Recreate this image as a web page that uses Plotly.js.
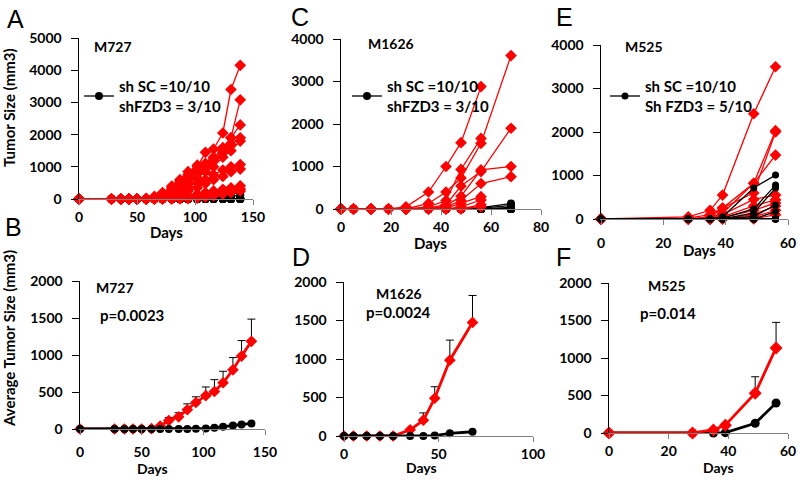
<!DOCTYPE html>
<html>
<head>
<meta charset="utf-8">
<script src="https://cdn.plot.ly/plotly-3.0.1.min.js"></script>
<style>
  body { margin: 0; background: #fff; }
  #tumorPlot { width: 800px; height: 482px; }
</style>
</head>
<body>
<div id="tumorPlot"></div>
<script>
// ---- data ----
// M727 (panels A and B)
var daysM727 = [0, 28, 36, 43, 50, 58, 65, 72, 80, 87, 94, 102, 109, 116, 124, 131, 139];
var redM727 = [
    [0, 0, 0, 0, 0, 0, 50, 150, 300, 500, 750, 1000, 1450, 1550, 2050, 3400, 4150],
    [0, 0, 0, 0, 0, 20, 80, 200, 350, 550, 700, 900, 1100, 1300, 1500, 1900, 3080],
    [0, 0, 0, 0, 0, 0, 60, 180, 400, 600, 850, 1050, 1100, 1250, 1600, 1900, 2300],
    [0, 0, 0, 0, 0, 0, 40, 120, 250, 420, 600, 800, 1000, 1200, 1450, 1700, 1900],
    [0, 0, 0, 0, 0, 0, 30, 100, 200, 330, 480, 650, 850, 1000, 1300, 1500, 1800],
    [0, 0, 0, 0, 0, 0, 0, 60, 150, 250, 380, 500, 600, 750, 900, 1000, 1070],
    [0, 0, 0, 0, 0, 0, 0, 30, 80, 160, 250, 350, 480, 600, 700, 850, 930],
    [0, 0, 0, 0, 0, 0, 0, 0, 30, 60, 100, 150, 200, 250, 300, 350, 410],
    [0, 0, 0, 0, 0, 0, 0, 0, 0, 20, 50, 80, 120, 170, 220, 260, 310],
    [0, 0, 0, 0, 0, 0, 0, 0, 0, 0, 10, 30, 60, 100, 150, 200, 250]
];
var blackM727 = [
    [0, 0, 0, 0, 0, 0, 0, 0, 0, 0, 0, 10, 40, 100, 180, 250, 300],
    [0, 0, 0, 0, 0, 0, 0, 0, 0, 0, 0, 0, 20, 60, 120, 180, 220],
    [0, 0, 0, 0, 0, 0, 0, 0, 0, 0, 0, 0, 0, 20, 50, 80, 120],
    [0, 0, 0, 0, 0, 0, 0, 0, 0, 0, 0, 0, 0, 0, 0, 0, 0],
    [0, 0, 0, 0, 0, 0, 0, 0, 0, 0, 0, 0, 0, 0, 0, 0, 0],
    [0, 0, 0, 0, 0, 0, 0, 0, 0, 0, 0, 0, 0, 0, 0, 0, 0],
    [0, 0, 0, 0, 0, 0, 0, 0, 0, 0, 0, 0, 0, 0, 0, 0, 0],
    [0, 0, 0, 0, 0, 0, 0, 0, 0, 0, 0, 0, 0, 0, 0, 0, 0],
    [0, 0, 0, 0, 0, 0, 0, 0, 0, 0, 0, 0, 0, 0, 0, 0, 0],
    [0, 0, 0, 0, 0, 0, 0, 0, 0, 0, 0, 0, 0, 0, 0, 0, 0]
];
var meanRedM727 = [0, 0, 0, 0, 0, 5, 40, 115, 165, 260, 358, 450, 507, 625, 800, 985, 1185];
var errRedM727 = [0, 0, 0, 0, 0, 3, 12, 40, 55, 80, 77, 118, 160, 155, 165, 210, 300];
var meanBlackM727 = [0, 0, 0, 0, 0, 0, 0, 0, 0, 0, 3, 8, 18, 30, 48, 62, 75];

// M1626 (panels C and D)
var daysM1626 = [0, 5, 12, 19, 26, 35, 42, 48, 56, 68];
var redM1626 = [
    [0, 0, 0, 0, 50, 400, 1000, 1560, 2880, null],
    [0, 0, 0, 0, 0, 130, 400, 730, 1545, 3610],
    [0, 0, 0, 0, 0, 50, 200, 930, 1660, null],
    [0, 0, 0, 0, 0, 20, 100, 540, 880, 1900],
    [0, 0, 0, 0, 0, 0, 80, 300, 920, 1000],
    [0, 0, 0, 0, 0, 0, 50, 200, 600, 760],
    [0, 0, 0, 0, 0, 0, 20, 130, 290, null],
    [0, 0, 0, 0, 0, 0, 0, 50, 212, null],
    [0, 0, 0, 0, 0, 0, 0, 0, 100, null],
    [0, 0, 0, 0, 0, 0, 0, 0, 50, null]
];
var blackM1626 = [
    [0, 0, 0, 0, 0, 0, 0, 10, 30, 130],
    [0, 0, 0, 0, 0, 0, 0, 0, 20, 80],
    [0, 0, 0, 0, 0, 0, 0, 0, 0, 40],
    [0, 0, 0, 0, 0, 0, 0, 0, 0, 0],
    [0, 0, 0, 0, 0, 0, 0, 0, 0, 0],
    [0, 0, 0, 0, 0, 0, 0, 0, 0, 0],
    [0, 0, 0, 0, 0, 0, 0, 0, 0, 0],
    [0, 0, 0, 0, 0, 0, 0, 0, 0, 0],
    [0, 0, 0, 0, 0, 0, 0, 0, 0, 0],
    [0, 0, 0, 0, 0, 0, 0, 0, 0, 0]
];
var meanRedM1626 = [0, 0, 0, 0, 0, 80, 205, 490, 985, 1475];
var errRedM1626 = [0, 0, 0, 0, 0, 15, 95, 150, 260, 350];
var meanBlackM1626 = [0, 0, 0, 0, 0, 0, 0, 5, 35, 55];

// M525 (panels E and F)
var daysM525 = [0, 28, 35, 39, 49, 56];
var redM525 = [
    [0, 50, 200, 550, 2420, 3500],
    [0, 20, 100, 250, 820, 2030],
    [0, 0, 50, 250, 600, 2000],
    [0, 0, 30, 130, 820, 1470],
    [0, 0, 0, 100, 450, 550],
    [0, 0, 0, 50, 300, 440],
    [0, 0, 0, 30, 200, 370],
    [0, 0, 0, 0, 100, 300],
    [0, 0, 0, 0, 50, 200],
    [0, 0, 0, 0, 0, 100]
];
var blackM525 = [
    [0, 0, 0, 50, 715, 1010],
    [0, 0, 0, 20, 230, 780],
    [0, 0, 0, 0, 140, 710],
    [0, 0, 0, 0, 60, 320],
    [0, 0, 0, 0, 0, 170],
    [0, 0, 0, 0, 0, 0],
    [0, 0, 0, 0, 0, 0],
    [0, 0, 0, 0, 0, 0],
    [0, 0, 0, 0, 0, 0],
    [0, 0, 0, 0, 0, 0]
];
var meanRedM525 = [0, 0, 40, 105, 530, 1135];
var errRedM525 = [0, 0, 15, 25, 220, 340];
var meanBlackM525 = [0, 0, 0, 5, 130, 400];

var legendTexts = ["sh SC =10/10<br>shFZD3 = 3/10", "sh SC =10/10<br>shFZD3 = 3/10", "sh SC =10/10<br>Sh FZD3 = 5/10"];

// ---- styling ----
var RED = "#ff0000";
var FONT = "Lato, 'Open Sans', sans-serif";
var W = 800, H = 482;
function px(x) { return x / W; }
function py(y) { return 1 - y / H; }

var traces = [];

// one line per mouse
function addMice(days, groups, color, symbol, size, xa, ya, legendName, legendId) {
    groups.forEach(function(vals, i) {
        var t = {
            x: days, y: vals, type: "scatter", mode: "lines+markers",
            xaxis: xa, yaxis: ya, cliponaxis: false,
            line: {color: color, width: 1.3},
            marker: {color: color, symbol: symbol, size: size},
            showlegend: false, hoverinfo: "skip"
        };
        if (legendName && i === 0) {
            t.showlegend = true;
            t.name = legendName;
            t.legend = legendId;
        }
        traces.push(t);
    });
}

function addMean(days, vals, errs, color, symbol, size, xa, ya) {
    var t = {
        x: days, y: vals, type: "scatter", mode: "lines+markers",
        xaxis: xa, yaxis: ya, cliponaxis: false,
        line: {color: color, width: 2.8},
        marker: {color: color, symbol: symbol, size: size},
        showlegend: false, hoverinfo: "skip"
    };
    if (errs) {
        t.error_y = {type: "data", symmetric: false, array: errs,
            arrayminus: errs.map(function() { return 0; }),
            color: "#000", thickness: 1, width: 4};
    }
    traces.push(t);
}

// A and C: red drawn over black; E: black over red
addMice(daysM727, blackM727, "#000", "circle", 8, "x", "y", legendTexts[0], "legend");
addMice(daysM727, redM727, RED, "diamond", 9, "x", "y");
addMice(daysM1626, blackM1626, "#000", "circle", 8, "x2", "y2", legendTexts[1], "legend2");
addMice(daysM1626, redM1626, RED, "diamond", 9, "x2", "y2");
addMice(daysM525, redM525, RED, "diamond", 9, "x3", "y3");
addMice(daysM525, blackM525, "#000", "circle", 7, "x3", "y3", legendTexts[2], "legend3");

addMean(daysM727, meanRedM727, errRedM727, RED, "diamond", 9, "x4", "y4");
addMean(daysM727, meanBlackM727, null, "#000", "circle", 8, "x4", "y4");
addMean(daysM1626, meanRedM1626, errRedM1626, RED, "diamond", 9, "x5", "y5");
addMean(daysM1626, meanBlackM1626, null, "#000", "circle", 8, "x5", "y5");
addMean(daysM525, meanBlackM525, null, "#000", "circle", 9, "x6", "y6");
addMean(daysM525, meanRedM525, errRedM525, RED, "diamond", 10, "x6", "y6");

var tickFont = {family: FONT, size: 14, color: "#000", weight: "bold"};

function xAxis(x0, x1, range, dtick, anchor, standoff) {
    return {domain: [px(x0), px(x1)], range: range, dtick: dtick, anchor: anchor,
        showgrid: false, zeroline: false, showline: true, linecolor: "#7f7f7f", linewidth: 1,
        ticks: "outside", ticklen: 5, tickcolor: "#7f7f7f", tickfont: tickFont,
        ticklabelstandoff: standoff, fixedrange: true};
}
function yAxis(y0, y1, range, dtick, anchor) {
    return {domain: [py(y1), py(y0)], range: range, dtick: dtick, anchor: anchor,
        showgrid: false, zeroline: false, showline: true, linecolor: "#000", linewidth: 1.5,
        ticks: "outside", ticklen: 7, tickcolor: "#000", tickfont: tickFont,
        ticklabelstandoff: 6, fixedrange: true};
}

function note(text, x, y, size, extra) {
    var a = {text: text, x: px(x), y: py(y), xref: "paper", yref: "paper",
        xanchor: "center", yanchor: "middle", showarrow: false,
        font: {family: FONT, size: size, color: "#000", weight: "bold"}};
    for (var k in extra) { a[k] = extra[k]; }
    return a;
}
function letter(text, x, y) {
    return {text: text, x: px(x), y: py(y), xref: "paper", yref: "paper",
        xanchor: "center", yanchor: "middle", showarrow: false,
        font: {family: "'Liberation Sans', Arial, sans-serif", size: 25, color: "#000"}};
}
function legendBox(x, y) {
    return {x: px(x), y: py(y), xanchor: "left", yanchor: "top", bgcolor: "rgba(0,0,0,0)",
        borderwidth: 0, font: {family: FONT, size: 15, color: "#000", weight: "bold"},
        itemwidth: 30, valign: "middle"};
}

var layout = {
    width: W, height: H,
    margin: {l: 0, r: 0, t: 0, b: 0},
    paper_bgcolor: "#fff", plot_bgcolor: "rgba(0,0,0,0)",
    font: {family: FONT, color: "#000"},
    xaxis: xAxis(79, 253, [0, 150], 50, "y", 0),
    yaxis: yAxis(38, 199, [0, 5000], 1000, "x"),
    xaxis2: xAxis(341, 541, [0, 80], 20, "y2", 0),
    yaxis2: yAxis(39, 209, [0, 4000], 1000, "x2"),
    xaxis3: xAxis(601, 788, [0, 60], 20, "y3", 6),
    yaxis3: yAxis(45, 219, [0, 4000], 1000, "x3"),
    xaxis4: xAxis(80, 265, [0, 150], 50, "y4", 5),
    yaxis4: yAxis(281, 429, [0, 2000], 500, "x4"),
    xaxis5: xAxis(344, 533, [0, 100], 50, "y5", 0),
    yaxis5: yAxis(282, 436, [0, 2000], 500, "x5"),
    xaxis6: xAxis(609, 788, [0, 60], 20, "y6", 0),
    yaxis6: yAxis(283, 433, [0, 2000], 500, "x6"),
    legend: legendBox(79, 70),
    legend2: legendBox(347, 70),
    legend3: legendBox(605, 70),
    annotations: [
        letter("A", 15, 19), letter("C", 300, 17), letter("E", 564, 17),
        letter("B", 13, 227), letter("D", 301, 257), letter("F", 563, 257),
        note("Tumor Size (mm3)", 9, 108, 15, {textangle: -90}),
        note("Average Tumor Size (mm3)", 9, 339, 15, {textangle: -90}),
        note("Days", 166, 232, 15), note("Days", 431, 243, 15), note("Days", 699, 250, 15),
        note("Days", 152, 468, 14), note("Days", 421, 467, 14), note("Days", 718, 467, 14),
        note("M727", 113, 47, 14), note("M1626", 391, 43, 14), note("M525", 644, 47, 14),
        note("M727", 115, 287, 14), note("p=0.0023", 132, 315, 15),
        note("M1626", 399, 293, 14), note("p=0.0024", 398, 312, 15),
        note("M525", 667, 285, 14), note("p=0.014", 668, 313, 15)
    ]
};

Plotly.newPlot("tumorPlot", traces, layout, {staticPlot: true});
</script>
</body>
</html>
